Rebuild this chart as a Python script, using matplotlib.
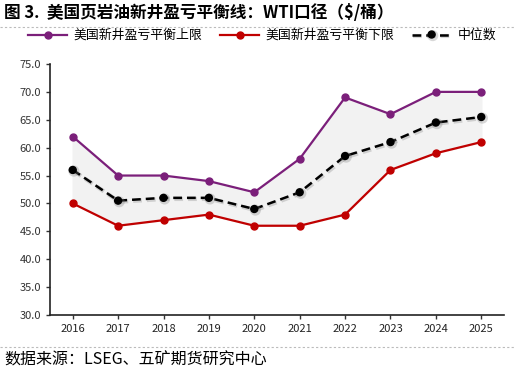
import matplotlib
matplotlib.use("Agg")
import matplotlib.pyplot as plt
import matplotlib.patheffects as pe
import numpy as np

plt.rcParams['font.family'] = ['Noto Sans CJK SC', 'DejaVu Sans']

years = ['2016', '2017', '2018', '2019', '2020', '2021', '2022', '2023', '2024', '2025']
upper = [62, 55, 55, 54, 52, 58, 69, 66, 70, 70]
lower = [50, 46, 47, 48, 46, 46, 48, 56, 59, 61]
median = [56, 50.5, 51, 51, 49, 52, 58.5, 61, 64.5, 65.5]

purple = '#7B1F7A'
red = '#C00000'

fig = plt.figure(figsize=(5.14, 3.74), dpi=100)
ax = fig.add_axes([0.0973, 0.1578, 0.8832, 0.6711])

x = np.arange(len(years))
ax.fill_between(x, lower, upper, color='#f2f2f2', zorder=1)
ax.plot(x, upper, color=purple, lw=1.6, marker='o', ms=5, label='美国新井盈亏平衡上限', zorder=3)
ax.plot(x, lower, color=red, lw=1.6, marker='o', ms=5, label='美国新井盈亏平衡下限', zorder=3)
ax.plot(x, median, color='black', lw=1.8, ls=(0, (3.5, 2)), marker='o', ms=5,
        label='中位数', zorder=4,
        path_effects=[pe.SimpleLineShadow(offset=(0.8, -0.8), shadow_color='gray', alpha=0.3, linewidth=3),
                      pe.Normal()])

ax.set_xlim(-0.5, 9.5)
ax.set_ylim(30, 75)
ax.set_yticks(np.arange(30, 75.1, 5))
ax.set_yticklabels([f'{v:.1f}' for v in np.arange(30, 75.1, 5)])
ax.set_xticks(x)
ax.set_xticklabels(years)
ax.tick_params(axis='both', labelsize=8, colors='#333333', length=3, width=1)
ax.tick_params(axis='x', labelcolor='#222222')
for s in ['top', 'right']:
    ax.spines[s].set_visible(False)
for s in ['left', 'bottom']:
    ax.spines[s].set_color('#222222')
    ax.spines[s].set_linewidth(1.2)

fig.text(0.008, 0.965, '图 3.  美国页岩油新井盈亏平衡线：WTI口径（$/桶）', fontsize=12,
         fontweight='bold', va='center', ha='left')
fig.add_artist(plt.Line2D([0, 1], [0.928, 0.928], color='#bbbbbb', lw=0.8, ls=(0, (2, 2))))
fig.add_artist(plt.Line2D([0, 1], [0.072, 0.072], color='#bbbbbb', lw=0.8, ls=(0, (2, 2))))
fig.text(0.008, 0.037, '数据来源：LSEG、五矿期货研究中心', fontsize=11.5, va='center', ha='left')

fig.legend(loc='center', bbox_to_anchor=(0.51, 0.905), ncol=3, frameon=False, fontsize=9.3,
           handlelength=3.0, columnspacing=1.4, handletextpad=0.5)

fig.savefig('out.png', dpi=100)
